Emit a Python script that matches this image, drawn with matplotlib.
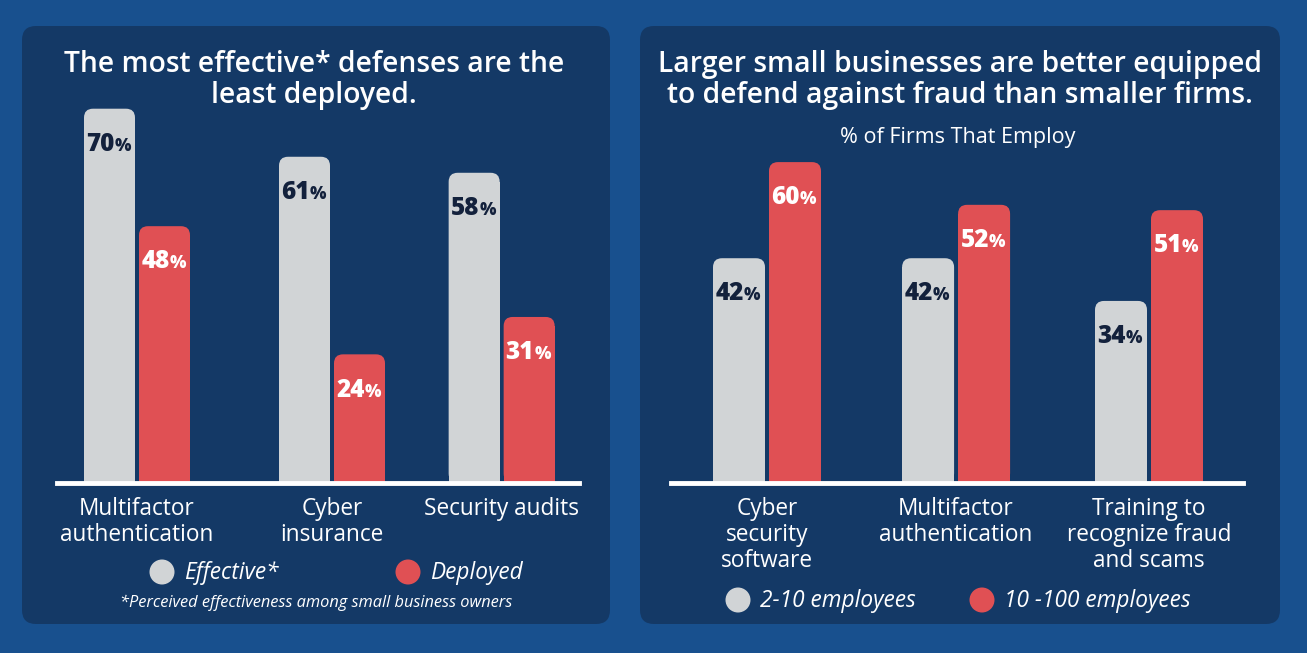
import matplotlib.pyplot as plt
from matplotlib.patches import FancyBboxPatch, Circle
from matplotlib.transforms import offset_copy

# --- data -------------------------------------------------------------
left_categories = ['Multifactor\nauthentication', 'Cyber\ninsurance', 'Security audits']
effective = [70, 61, 58]
deployed = [48, 24, 31]

right_categories = ['Cyber\nsecurity\nsoftware', 'Multifactor\nauthentication',
                    'Training to\nrecognize fraud\nand scams']
small_firms = [42, 42, 34]
larger_firms = [60, 52, 51]

# --- style -------------------------------------------------------------
W, H = 1307, 653
OUTER = '#18508e'
PANEL = '#143966'
GRAY = '#d1d4d6'
RED = '#e05054'
NAVY = '#13213c'
PX_PER_PCT = 5.34
BASE_Y = 482.5

plt.rcParams['font.family'] = ['Open Sans', 'DejaVu Sans']

fig = plt.figure(figsize=(W / 100, H / 100), dpi=100, facecolor=OUTER)

# background layer in pixel coordinates for the panels and free text
bg = fig.add_axes([0, 0, 1, 1], zorder=0)
bg.set_xlim(0, W)
bg.set_ylim(H, 0)
bg.axis('off')

for x0, x1 in [(22, 610), (640, 1280)]:
    bg.add_patch(FancyBboxPatch((x0, 26), x1 - x0, 598,
                                boxstyle='round,pad=0,rounding_size=14',
                                fc=PANEL, ec='none'))


def make_axes(x0, x1):
    top = BASE_Y - 75 * PX_PER_PCT
    ax = fig.add_axes([x0 / W, (H - BASE_Y) / H, (x1 - x0) / W, (BASE_Y - top) / H],
                      zorder=1)
    ax.patch.set_alpha(0)
    ax.set_ylim(0, 75)
    for s in ax.spines.values():
        s.set_visible(False)
    ax.set_yticks([])
    return ax


def draw_bars(ax, xs, vals, width, px_per_x, color, txt_color):
    r = 9
    rx, ry = r / px_per_x, r / PX_PER_PCT
    ax.bar(xs, [v - ry for v in vals], width, color=color, linewidth=0)
    for x, v in zip(xs, vals):
        ax.add_patch(FancyBboxPatch((x - width / 2, 0), width, v,
                                    boxstyle=f'round,pad=0,rounding_size={rx}',
                                    mutation_aspect=ry / rx, fc=color, ec='none'))
        tr = offset_copy(ax.transData, fig=fig, x=5, y=0, units='dots')
        ax.text(x, v - 7.9, f'{v}', transform=tr, ha='right', va='baseline',
                fontsize=17.5, fontweight='heavy', color=txt_color)
        ax.text(x, v - 7.9, '%', transform=tr, ha='left', va='baseline',
                fontsize=12.5, fontweight='heavy', color=txt_color)


def finish(ax, pos, labels):
    ax.axhline(0, color='white', lw=3.5, clip_on=False, zorder=3)
    ax.set_xticks(pos)
    ax.set_xticklabels(labels, fontsize=16.3, color='white', linespacing=1.1,
                       fontweight='medium')
    ax.tick_params(axis='x', length=0, pad=10.5)


# --- left panel ---------------------------------------------------------
left_pos = [0, 1, 1.87]
lpx = 195
ax1 = make_axes(57, 579)
ax1.set_xlim((57 - 137) / lpx, (579 - 137) / lpx)
lw, lo = 51 / lpx, 27.5 / lpx
draw_bars(ax1, [p - lo for p in left_pos], effective, lw, lpx, GRAY, NAVY)
draw_bars(ax1, [p + lo for p in left_pos], deployed, lw, lpx, RED, 'white')
finish(ax1, left_pos, left_categories)

# --- right panel --------------------------------------------------------
right_pos = [0, 0.99, 2]
rpx = 191
ax2 = make_axes(671, 1243)
ax2.set_xlim((671 - 767) / rpx, (1243 - 767) / rpx)
rw, ro = 52 / rpx, 28 / rpx
draw_bars(ax2, [p - ro for p in right_pos], small_firms, rw, rpx, GRAY, NAVY)
draw_bars(ax2, [p + ro for p in right_pos], larger_firms, rw, rpx, RED, 'white')
finish(ax2, right_pos, right_categories)

# --- titles, legends ----------------------------------------------------
bg.text(314, 80, 'The most effective* defenses are the\nleast deployed.',
        ha='center', va='center', fontsize=20.3, fontweight='semibold',
        color='white', linespacing=1.1)
bg.text(960, 80, 'Larger small businesses are better equipped\n'
        'to defend against fraud than smaller firms.',
        ha='center', va='center', fontsize=20.3, fontweight='semibold',
        color='white', linespacing=1.1)
bg.text(958, 138, '% of Firms That Employ', ha='center', va='center',
        fontsize=15.5, fontweight='medium', color='white')

for cx, cy, col, label in [(162, 572, GRAY, 'Effective*'), (408, 572, RED, 'Deployed'),
                           (738, 600, GRAY, '2-10 employees'),
                           (982, 600, RED, '10 -100 employees')]:
    bg.add_patch(Circle((cx, cy), 12.5, fc=col, ec='none'))
    bg.text(cx + 22, cy + 1, label, ha='left', va='center', fontsize=16.3,
            fontstyle='italic', fontweight='medium', color='white')

bg.text(316, 603, '*Perceived effectiveness among small business owners',
        ha='center', va='center', fontsize=11.8, fontstyle='italic',
        fontweight='medium', color='white')

fig.savefig('out.png', dpi=100, facecolor=OUTER)
